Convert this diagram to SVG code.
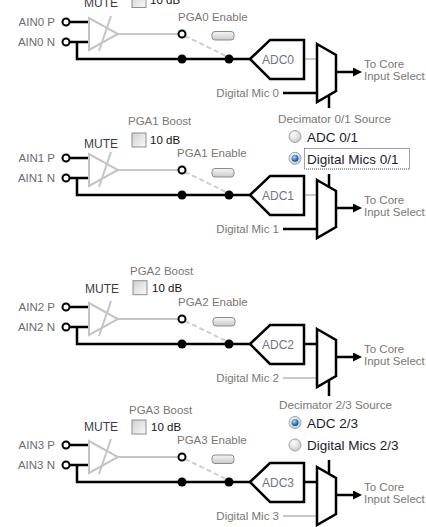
<svg xmlns="http://www.w3.org/2000/svg" width="426" height="527" viewBox="0 0 426 527">
<defs>
<style>
text{font-family:"Liberation Sans",Arial,sans-serif}
.lbl{font-size:11.5px;fill:#7b7771}
.ain{font-size:11.5px;fill:#6b6b78}
.mute{font-size:12px;fill:#3c3c4e}
.db{font-size:11.5px;fill:#141414}
.adct{font-size:12px;fill:#72728a;text-anchor:middle}
.rad{font-size:13.5px;fill:#1c1c30}
.w{fill:none;stroke:#000;stroke-width:2.5}
.gw{fill:none;stroke:#c8c8c8;stroke-width:2}
.dash{fill:none;stroke:#cfcfcf;stroke-width:2;stroke-dasharray:5 3}
.blk{fill:#fff;stroke:#000;stroke-width:2.5}
.pin{fill:#fff;stroke:#000;stroke-width:2}
.dot{fill:#000}
.tri{fill:none;stroke:#c4c4c4;stroke-width:2}
.btn{fill:url(#btnG);stroke:#8c8c8c;stroke-width:1}
.cb{fill:url(#cbG);stroke:#8e8e8e;stroke-width:1}
.roff{fill:url(#rOff);stroke:#a3a3a3;stroke-width:1}
.focus{fill:none;stroke:#444;stroke-width:1;stroke-dasharray:1 1}
</style>
<linearGradient id="btnG" x1="0" y1="0" x2="0" y2="1"><stop offset="0" stop-color="#f6f6f6"/><stop offset="1" stop-color="#cacaca"/></linearGradient>
<linearGradient id="cbG" x1="0" y1="0" x2="1" y2="1"><stop offset="0" stop-color="#cfcfcf"/><stop offset="1" stop-color="#fbfbfb"/></linearGradient>
<radialGradient id="rOff" cx="0.4" cy="0.35" r="0.7"><stop offset="0" stop-color="#ffffff"/><stop offset="1" stop-color="#c6c6c6"/></radialGradient>
<radialGradient id="rOn" cx="0.4" cy="0.35" r="0.7"><stop offset="0" stop-color="#a6dcff"/><stop offset="0.6" stop-color="#2a7cc4"/><stop offset="1" stop-color="#0d4687"/></radialGradient>
<marker id="arr" markerUnits="userSpaceOnUse" markerWidth="10" markerHeight="10" refX="3" refY="4.5" orient="auto"><path d="M0,0 L9,4.5 L0,9 Z" fill="#000"/></marker>
</defs>
<rect width="426" height="527" fill="#fff"/>

<g id="connectors">
 <g transform="translate(0,22)">
  <path class="w" d="M70,0H89M70,20H89M77,20V37H250"/>
  <path class="gw" d="M118,12H178.5"/>
  <path class="dash" d="M185,14L226,34"/>
  <path class="gw" d="M304,37H318"/>
  <path class="w" d="M283,71H318"/>
  <path class="w" d="M336,50H356" marker-end="url(#arr)"/>
  <circle class="dot" cx="182" cy="37" r="4.5"/><circle class="dot" cx="229" cy="37" r="4.5"/>
 </g>
 <g transform="translate(0,158)">
  <path class="w" d="M70,0H89M70,20H89M77,20V37H250"/>
  <path class="gw" d="M118,12H178.5"/>
  <path class="dash" d="M185,14L226,34"/>
  <path class="gw" d="M304,37H318"/>
  <path class="w" d="M283,71H318"/>
  <path class="w" d="M336,50H356" marker-end="url(#arr)"/>
  <circle class="dot" cx="182" cy="37" r="4.5"/><circle class="dot" cx="229" cy="37" r="4.5"/>
 </g>
 <g transform="translate(0,307)">
  <path class="w" d="M70,0H89M70,20H89M77,20V37H250"/>
  <path class="gw" d="M118,12H178.5"/>
  <path class="dash" d="M185,14L226,34"/>
  <path class="w" d="M304,37H318"/>
  <path class="gw" d="M283,71H318"/>
  <path class="w" d="M336,50H356" marker-end="url(#arr)"/>
  <circle class="dot" cx="182" cy="37" r="4.5"/><circle class="dot" cx="229" cy="37" r="4.5"/>
 </g>
 <g transform="translate(0,445)">
  <path class="w" d="M70,0H89M70,20H89M77,20V37H250"/>
  <path class="gw" d="M118,12H178.5"/>
  <path class="dash" d="M185,14L226,34"/>
  <path class="w" d="M304,37H318"/>
  <path class="gw" d="M283,71H318"/>
  <path class="w" d="M336,50H356" marker-end="url(#arr)"/>
  <circle class="dot" cx="182" cy="37" r="4.5"/><circle class="dot" cx="229" cy="37" r="4.5"/>
 </g>
 <path class="w" d="M329,88V108M329,174V200M329,373V396M329,460V485"/>
</g>

<!-- Section 0 -->
<g transform="translate(0,22)">
 <g id="ain0p"><text class="ain" x="55" y="4" text-anchor="end">AIN0 P</text><circle class="pin" cx="66" cy="0" r="3.5"/></g>
 <g id="ain0n"><text class="ain" x="55" y="24" text-anchor="end">AIN0 N</text><circle class="pin" cx="66" cy="20" r="3.5"/></g>
 <g id="pga0"><path class="tri" d="M89,-4V28L118,12Z"/><path class="tri" d="M111,-6L99,29"/><text class="mute" x="84" y="-15">MUTE</text></g>
 <g id="boost0"><rect class="cb" x="132" y="-28.5" width="14" height="14"/><text class="db" x="150" y="-18">10 dB</text></g>
 <g id="enable0"><text class="lbl" x="178" y="-1.5">PGA0 Enable</text><rect class="btn" x="212" y="9.5" width="22" height="8.5" rx="3"/><circle class="pin" cx="182" cy="12" r="3.5"/></g>
 <g id="adc0"><path class="blk" d="M250,37L270,18H304V57H270Z"/><text class="adct" x="278" y="42">ADC0</text></g>
 <g id="mux0"><path class="blk" d="M317,22L336,33V69L317,80Z"/></g>
 <g id="dmic0"><text class="lbl" x="279" y="75" text-anchor="end">Digital Mic 0</text></g>
 <g id="out0"><text class="lbl" x="364" y="46">To Core</text><text class="lbl" x="364" y="58">Input Select</text></g>
</g>

<!-- Section 1 -->
<g transform="translate(0,158)">
 <g id="ain1p"><text class="ain" x="55" y="4" text-anchor="end">AIN1 P</text><circle class="pin" cx="66" cy="0" r="3.5"/></g>
 <g id="ain1n"><text class="ain" x="55" y="24" text-anchor="end">AIN1 N</text><circle class="pin" cx="66" cy="20" r="3.5"/></g>
 <g id="pga1"><path class="tri" d="M89,-4V28L118,12Z"/><path class="tri" d="M111,-6L99,29"/><text class="mute" x="84" y="-10">MUTE</text></g>
 <g id="boost1"><text class="lbl" x="128" y="-33">PGA1 Boost</text><rect class="cb" x="132" y="-25" width="14" height="14"/><text class="db" x="150" y="-14">10 dB</text></g>
 <g id="enable1"><text class="lbl" x="177" y="-1.5">PGA1 Enable</text><rect class="btn" x="212" y="10.5" width="22" height="8.5" rx="3"/><circle class="pin" cx="182" cy="12" r="3.5"/></g>
 <g id="adc1"><path class="blk" d="M250,37L270,18H304V57H270Z"/><text class="adct" x="278" y="42">ADC1</text></g>
 <g id="mux1"><path class="blk" d="M317,22L336,33V69L317,80Z"/></g>
 <g id="dmic1"><text class="lbl" x="279" y="75" text-anchor="end">Digital Mic 1</text></g>
 <g id="out1"><text class="lbl" x="364" y="46">To Core</text><text class="lbl" x="364" y="58">Input Select</text></g>
</g>

<g id="dec01">
 <text class="lbl" x="278" y="122.5" style="font-size:11.7px">Decimator 0/1 Source</text>
 <circle class="roff" cx="295" cy="136.5" r="6"/>
 <text class="rad" x="307" y="141.5">ADC 0/1</text>
 <circle class="roff" cx="295" cy="158.3" r="6"/><circle cx="295" cy="158.3" r="3.5" fill="url(#rOn)"/>
 <text class="rad" x="307" y="163.5">Digital Mics 0/1</text>
 <rect class="focus" x="304.5" y="148.5" width="105" height="20.5"/>
</g>

<!-- Section 2 -->
<g transform="translate(0,307)">
 <g id="ain2p"><text class="ain" x="55" y="4" text-anchor="end">AIN2 P</text><circle class="pin" cx="66" cy="0" r="3.5"/></g>
 <g id="ain2n"><text class="ain" x="55" y="24" text-anchor="end">AIN2 N</text><circle class="pin" cx="66" cy="20" r="3.5"/></g>
 <g id="pga2"><path class="tri" d="M89,-4V28L118,12Z"/><path class="tri" d="M111,-6L99,29"/><text class="mute" x="85" y="-14">MUTE</text></g>
 <g id="boost2"><text class="lbl" x="130" y="-32.5">PGA2 Boost</text><rect class="cb" x="133" y="-26.3" width="14" height="14"/><text class="db" x="152" y="-15.5">10 dB</text></g>
 <g id="enable2"><text class="lbl" x="178" y="-1.5">PGA2 Enable</text><rect class="btn" x="213" y="10.5" width="22" height="8.5" rx="3"/><circle class="pin" cx="182" cy="12" r="3.5"/></g>
 <g id="adc2"><path class="blk" d="M250,37L270,18H304V57H270Z"/><text class="adct" x="278" y="42">ADC2</text></g>
 <g id="mux2"><path class="blk" d="M317,22L336,33V69L317,80Z"/></g>
 <g id="dmic2"><text class="lbl" x="279" y="75" text-anchor="end">Digital Mic 2</text></g>
 <g id="out2"><text class="lbl" x="364" y="46">To Core</text><text class="lbl" x="364" y="58">Input Select</text></g>
</g>

<g id="dec23">
 <text class="lbl" x="279" y="408.5" style="font-size:11.7px">Decimator 2/3 Source</text>
 <circle class="roff" cx="295" cy="422.5" r="6"/><circle cx="295" cy="422.5" r="3.5" fill="url(#rOn)"/>
 <text class="rad" x="307" y="427.5">ADC 2/3</text>
 <circle class="roff" cx="295" cy="445" r="6"/>
 <text class="rad" x="307" y="449.5">Digital Mics 2/3</text>
</g>

<!-- Section 3 -->
<g transform="translate(0,445)">
 <g id="ain3p"><text class="ain" x="55" y="4" text-anchor="end">AIN3 P</text><circle class="pin" cx="66" cy="0" r="3.5"/></g>
 <g id="ain3n"><text class="ain" x="55" y="24" text-anchor="end">AIN3 N</text><circle class="pin" cx="66" cy="20" r="3.5"/></g>
 <g id="pga3"><path class="tri" d="M89,-4V28L118,12Z"/><path class="tri" d="M111,-6L99,29"/><text class="mute" x="84" y="-14.3">MUTE</text></g>
 <g id="boost3"><text class="lbl" x="129" y="-31.3">PGA3 Boost</text><rect class="cb" x="132" y="-25" width="14" height="14"/><text class="db" x="151" y="-14.3">10 dB</text></g>
 <g id="enable3"><text class="lbl" x="177" y="-1.5">PGA3 Enable</text><rect class="btn" x="212" y="10" width="22" height="8.5" rx="3"/><circle class="pin" cx="182" cy="12" r="3.5"/></g>
 <g id="adc3"><path class="blk" d="M250,37L270,18H304V57H270Z"/><text class="adct" x="278" y="42">ADC3</text></g>
 <g id="mux3"><path class="blk" d="M317,22L336,33V69L317,80Z"/></g>
 <g id="dmic3"><text class="lbl" x="279" y="75" text-anchor="end">Digital Mic 3</text></g>
 <g id="out3"><text class="lbl" x="364" y="46">To Core</text><text class="lbl" x="364" y="58">Input Select</text></g>
</g>
</svg>
